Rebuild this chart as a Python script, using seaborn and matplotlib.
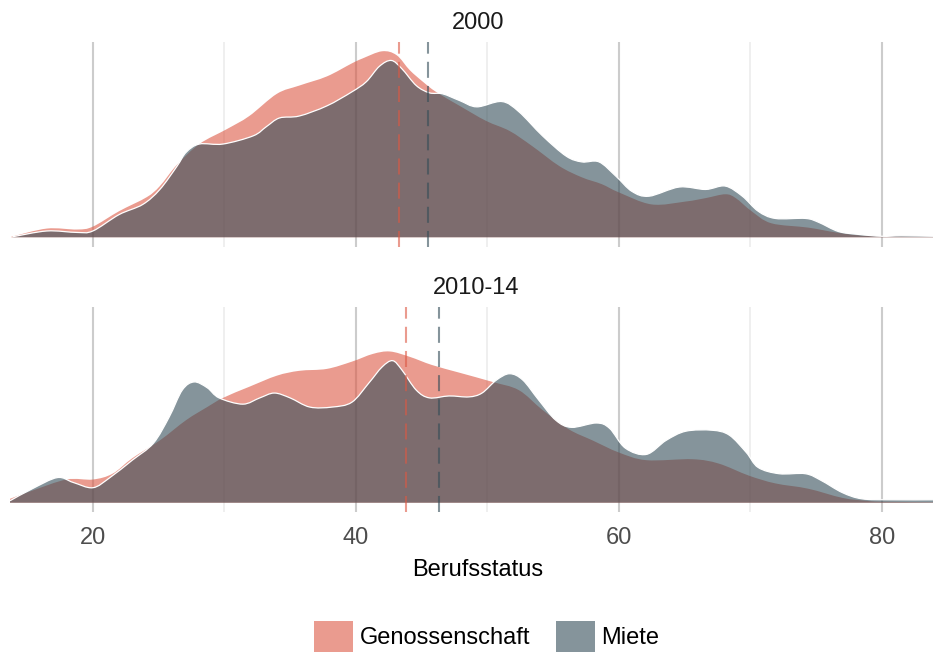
import matplotlib
matplotlib.use("Agg")
import matplotlib.pyplot as plt
import numpy as np
import pandas as pd
import seaborn as sns
from matplotlib.patches import Patch, PathPatch
from matplotlib.path import Path

years = ["2000", "2010-14"]
groups = ["Genossenschaft", "Miete"]

# Dichte des Berufsstatus, 2000
x_2000_gen = [13.8, 16.5, 18.8, 20.0, 22.0, 24.1, 25.1, 26.4, 28.1, 30.2, 31.9, 34.0, 35.7, 37.8,
              39.7, 40.5, 42.0, 43.1, 44.1, 45.1, 46.1, 47.9, 49.9, 51.7, 53.4, 55.5, 57.2, 58.7,
              60.0, 62.5, 65.1, 66.6, 68.1, 68.9, 70.1, 71.6, 74.4, 76.5, 78.2, 80.0, 84.0]
d_2000_gen = [0.0001, 0.0018, 0.0016, 0.0022, 0.0054, 0.0083, 0.0106, 0.0150, 0.0193, 0.0224,
              0.0251, 0.0297, 0.0314, 0.0333, 0.0360, 0.0370, 0.0385, 0.0377, 0.0346, 0.0322,
              0.0301, 0.0272, 0.0241, 0.0220, 0.0189, 0.0147, 0.0124, 0.0110, 0.0093, 0.0068,
              0.0074, 0.0081, 0.0089, 0.0081, 0.0054, 0.0029, 0.0020, 0.0010, 0.0004, 0.0002,
              0.0001]
x_2000_mie = [13.9, 16.5, 18.8, 20.0, 22.0, 23.8, 25.1, 26.4, 27.1, 28.1, 29.9, 32.2, 33.2, 34.2,
              35.7, 37.8, 39.7, 40.8, 41.8, 42.7, 43.5, 44.6, 45.6, 46.6, 47.9, 49.2, 51.1, 52.4,
              54.2, 56.0, 57.2, 58.5, 59.8, 61.0, 62.3, 64.6, 66.6, 68.1, 69.4, 70.6, 71.9, 74.2,
              75.2, 76.7, 78.2, 80.0, 81.5, 84.0]
d_2000_mie = [0.0001, 0.0013, 0.0010, 0.0013, 0.0047, 0.0068, 0.0099, 0.0147, 0.0176, 0.0193,
              0.0193, 0.0210, 0.0229, 0.0247, 0.0251, 0.0272, 0.0301, 0.0322, 0.0354, 0.0366,
              0.0349, 0.0314, 0.0299, 0.0297, 0.0283, 0.0270, 0.0281, 0.0260, 0.0210, 0.0168,
              0.0156, 0.0156, 0.0126, 0.0095, 0.0085, 0.0104, 0.0099, 0.0106, 0.0085, 0.0054,
              0.0039, 0.0039, 0.0031, 0.0012, 0.0006, 0.0002, 0.0003, 0.0002]

# Dichte des Berufsstatus, 2010-14
x_2010_gen = [13.7, 15.4, 18.0, 20.0, 21.5, 23.0, 25.1, 27.1, 28.7, 29.9, 31.9, 34.0, 35.7, 37.8,
              39.7, 41.3, 42.6, 44.1, 45.8, 47.9, 50.4, 52.4, 54.2, 56.2, 58.0, 60.0, 62.1, 65.6,
              67.6, 69.9, 71.9, 74.4, 77.0, 78.8, 80.0, 84.0]
d_2010_gen = [0.0008, 0.0025, 0.0048, 0.0048, 0.0060, 0.0092, 0.0129, 0.0171, 0.0198, 0.0217,
              0.0240, 0.0263, 0.0273, 0.0277, 0.0292, 0.0308, 0.0313, 0.0302, 0.0285, 0.0269,
              0.0250, 0.0233, 0.0192, 0.0152, 0.0129, 0.0104, 0.0088, 0.0090, 0.0081, 0.0056,
              0.0040, 0.0029, 0.0010, 0.0004, 0.0002, 0.0001]
x_2010_mie = [13.7, 15.4, 17.3, 18.5, 20.0, 21.3, 23.0, 24.6, 25.8, 26.8, 27.7, 28.7, 29.6, 31.4,
              32.7, 33.8, 35.0, 36.5, 38.2, 39.7, 41.0, 42.0, 42.8, 43.5, 44.6, 45.6, 47.1, 48.6,
              49.6, 50.7, 51.7, 52.7, 53.9, 55.2, 56.4, 58.3, 59.3, 60.5, 62.1, 63.6, 65.1, 67.1,
              68.4, 69.7, 70.6, 72.2, 74.2, 75.4, 77.0, 78.5, 80.7, 84.0]
d_2010_mie = [0.0004, 0.0029, 0.0052, 0.0042, 0.0031, 0.0052, 0.0088, 0.0123, 0.0177, 0.0233,
              0.0250, 0.0238, 0.0217, 0.0204, 0.0217, 0.0227, 0.0217, 0.0198, 0.0198, 0.0208,
              0.0248, 0.0281, 0.0294, 0.0275, 0.0233, 0.0217, 0.0221, 0.0219, 0.0227, 0.0254,
              0.0267, 0.0254, 0.0213, 0.0171, 0.0156, 0.0165, 0.0154, 0.0113, 0.0100, 0.0129,
              0.0148, 0.0150, 0.0140, 0.0104, 0.0073, 0.0060, 0.0060, 0.0046, 0.0021, 0.0008,
              0.0006, 0.0006]

# Mittelwerte je Jahr
mean_gen = [43.3, 43.8]
mean_mie = [45.5, 46.3]

x_ticks = [20, 40, 60, 80]
x_minor = [30, 50, 70]
x_range = (13.7, 83.9)

palette = {"Genossenschaft": "#DC5844", "Miete": "#344D58"}
edge = {"Genossenschaft": "none", "Miete": "white"}
ALPHA = 0.6

series = [
    ("2000", "Genossenschaft", x_2000_gen, d_2000_gen),
    ("2000", "Miete", x_2000_mie, d_2000_mie),
    ("2010-14", "Genossenschaft", x_2010_gen, d_2010_gen),
    ("2010-14", "Miete", x_2010_mie, d_2010_mie),
]
df = pd.concat(
    [pd.DataFrame({"Jahr": y, "Wohnform": g, "Berufsstatus": xs, "Dichte": ds})
     for y, g, xs, ds in series],
    ignore_index=True,
)
means = pd.DataFrame({
    "Jahr": years * 2,
    "Wohnform": ["Genossenschaft"] * 2 + ["Miete"] * 2,
    "Mittel": mean_gen + mean_mie,
})

sns.set_theme(style="white")
plt.rcParams["font.family"] = ["Liberation Sans", "DejaVu Sans"]
FS = 17


def curve_segments(x, y):
    """Cubic Bezier segments passing through every (x, y) point (Catmull-Rom tangents)."""
    p = np.column_stack([x, y]).astype(float)
    ext = np.vstack([p[0], p, p[-1]])
    verts, codes = [], []
    for i in range(len(p) - 1):
        p0, p1, p2, p3 = ext[i], ext[i + 1], ext[i + 2], ext[i + 3]
        c1 = p1 + (p2 - p0) / 6.0
        c2 = p2 - (p3 - p1) / 6.0
        c1[1] = max(c1[1], 0.0)
        c2[1] = max(c2[1], 0.0)
        verts += [tuple(c1), tuple(c2), tuple(p2)]
        codes += [Path.CURVE4] * 3
    return p, verts, codes


def draw_density(data, color, label=None, **kws):
    ax = plt.gca()
    x = data["Berufsstatus"].to_numpy()
    y = data["Dichte"].to_numpy()
    p, verts, codes = curve_segments(x, y)
    area = Path([(x[0], 0.0), tuple(p[0])] + verts + [(x[-1], 0.0), (x[0], 0.0)],
                [Path.MOVETO, Path.LINETO] + codes + [Path.LINETO, Path.CLOSEPOLY])
    ax.add_patch(PathPatch(area, facecolor=color, alpha=ALPHA, lw=0, zorder=2))
    if edge[label] != "none":
        outline = Path([tuple(p[0])] + verts, [Path.MOVETO] + codes)
        ax.add_patch(PathPatch(outline, facecolor="none", edgecolor=edge[label],
                               lw=0.9, zorder=3))


g = sns.FacetGrid(df, row="Jahr", row_order=years, hue="Wohnform", hue_order=groups,
                  palette=palette, sharex=True, sharey=True, height=3, aspect=3,
                  despine=False)
g.map_dataframe(draw_density)

ymax = df["Dichte"].max()
for ax, year in zip(g.axes.flat, years):
    ax.set_xlim(*x_range)
    ax.set_ylim(-0.05 * ymax, 1.05 * ymax)
    ax.set_xticks(x_ticks)
    ax.set_xticks(x_minor, minor=True)
    ax.set_yticks([])
    ax.grid(axis="x", which="major", color="#CCCCCC", lw=1.5)
    ax.grid(axis="x", which="minor", color="#EBEBEB", lw=1.1)
    ax.set_axisbelow(True)
    for s in ax.spines.values():
        s.set_visible(False)
    ax.set_facecolor("white")
    ax.tick_params(axis="x", which="both", length=0, pad=11, labelsize=FS,
                   labelcolor="#4D4D4D")
    for _, row in means[means["Jahr"] == year].iterrows():
        ax.axvline(row["Mittel"], color=palette[row["Wohnform"]], alpha=ALPHA,
                   lw=1.5, dashes=(7.7, 3.9), zorder=4)
    ax.set_title("")
    ax.set_xlabel("")
    ax.set_ylabel("")

g.axes.flat[0].tick_params(axis="x", labelbottom=False)

fig = g.figure
fig.set_size_inches(9.33, 6.56)
H = 656.0
W = 933.0
fig.subplots_adjust(left=10 / W, right=1.0, top=1 - 42 / H, bottom=1 - 512 / H,
                    hspace=61 / 205)

fig.text(478 / W, 1 - 29 / H, "2000", ha="center", va="baseline", fontsize=FS,
         color="#1A1A1A")
fig.text(476 / W, 1 - 294 / H, "2010-14", ha="center", va="baseline", fontsize=FS,
         color="#1A1A1A")
fig.text(478 / W, 1 - 576 / H, "Berufsstatus", ha="center", va="baseline", fontsize=FS,
         color="#000000")

handles = [Patch(facecolor=palette[k], alpha=ALPHA, edgecolor="none", label=k) for k in groups]
fig.legend(handles=handles, loc="center", bbox_to_anchor=(486.5 / W, 1 - 636.5 / H),
           ncol=2, frameon=False, fontsize=FS, handlelength=1.68, handleheight=1.68,
           handletextpad=0.25, columnspacing=1.09, borderpad=0, borderaxespad=0,
           labelcolor="#000000")

fig.savefig("out.png", dpi=100, facecolor="white")
